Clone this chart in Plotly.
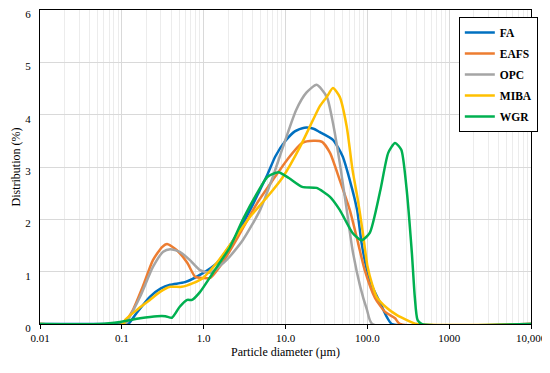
import plotly.graph_objects as go

# ---- data (particle diameter in µm, distribution in %) ----
fa_d = [0.01, 0.11, 0.12, 0.15, 0.22, 0.3, 0.39, 0.59, 0.9, 1.46, 2.3, 3.7, 4.5, 6.0, 7.5, 10, 13, 17, 22, 26, 38, 50, 61, 75, 85, 99, 115, 144, 175, 200, 10000]
fa_v = [0, 0, 0.0, 0.2, 0.52, 0.68, 0.75, 0.8, 0.94, 1.17, 1.6, 2.18, 2.45, 2.85, 3.2, 3.5, 3.68, 3.75, 3.73, 3.67, 3.52, 3.2, 2.75, 2.18, 1.55, 1.03, 0.71, 0.4, 0.12, 0, 0]

eafs_d = [0.01, 0.11, 0.116, 0.137, 0.18, 0.24, 0.31, 0.357, 0.47, 0.63, 0.79, 0.98, 1.2, 1.7, 2.8, 4.5, 7.0, 10.5, 16, 22, 28, 35, 46, 61, 77, 93, 124, 165, 218, 250, 10000]
eafs_v = [0, 0, 0.08, 0.27, 0.71, 1.22, 1.47, 1.53, 1.41, 1.17, 0.9, 0.88, 0.88, 1.17, 1.74, 2.31, 2.75, 3.14, 3.46, 3.5, 3.48, 3.27, 2.75, 2.18, 1.55, 1.03, 0.5, 0.23, 0.11, 0, 0]

opc_d = [0.01, 0.11, 0.119, 0.167, 0.24, 0.32, 0.39, 0.51, 0.68, 0.9, 1.2, 1.9, 3.0, 4.9, 7.0, 9.3, 13.5, 18, 24, 32, 38, 46, 56, 66, 82, 99, 115, 10000]
opc_v = [0, 0, 0.08, 0.52, 1.09, 1.38, 1.43, 1.38, 1.22, 1.03, 0.98, 1.22, 1.6, 2.18, 2.81, 3.38, 4.09, 4.42, 4.57, 4.34, 3.84, 3.08, 2.18, 1.41, 0.71, 0.27, 0, 0]

miba_d = [0.01, 0.105, 0.11, 0.153, 0.22, 0.29, 0.39, 0.54, 0.74, 0.98, 1.45, 2.3, 3.7, 6.0, 9.3, 15, 21.7, 26, 32, 38, 46, 56, 66, 77, 88, 100, 115, 130, 175, 230, 300, 400, 10000]
miba_v = [0, 0, 0.08, 0.27, 0.46, 0.61, 0.71, 0.71, 0.78, 0.88, 1.17, 1.6, 2.05, 2.43, 2.81, 3.38, 3.9, 4.15, 4.34, 4.51, 4.34, 3.77, 2.94, 2.35, 1.75, 1.12, 0.75, 0.52, 0.3, 0.17, 0.08, 0, 0]

wgr_d = [0.01, 0.054, 0.095, 0.167, 0.27, 0.34, 0.41, 0.51, 0.63, 0.72, 0.9, 1.3, 2.1, 3.0, 4.5, 6.0, 8.2, 11, 16, 24, 35, 46, 66, 85, 107, 144, 180, 218, 260, 300, 350, 380, 410, 460, 10000]
wgr_v = [0, 0, 0.04, 0.11, 0.15, 0.15, 0.12, 0.33, 0.46, 0.46, 0.61, 0.98, 1.47, 1.99, 2.5, 2.81, 2.9, 2.79, 2.62, 2.6, 2.43, 2.18, 1.74, 1.6, 1.74, 2.55, 3.27, 3.46, 3.33, 2.62, 1.36, 0.52, 0.08, 0, 0]

series_names = ["FA", "EAFS", "OPC", "MIBA", "WGR"]
series_colors = ["#0070C0", "#ED7D31", "#A5A5A5", "#FFC000", "#00B050"]
series_data = [(fa_d, fa_v), (eafs_d, eafs_v), (opc_d, opc_v), (miba_d, miba_v), (wgr_d, wgr_v)]

x_tickvals = [0.01, 0.1, 1, 10, 100, 1000, 10000]
x_ticktext = ["0.01", "0.1", "1.0", "10.0", "100.0", "1000", "10,000"]

FONT = "Liberation Serif"

fig = go.Figure()
for name, color, (d, v) in zip(series_names, series_colors, series_data):
    fig.add_trace(go.Scatter(
        x=d, y=v, name=name, mode="lines", legendgroup=name,
        line=dict(color=color, width=2.5, shape="spline", smoothing=0.6),
    ))

# the page body adds an 8px margin, so the figure is sized to fit the window
fig.update_layout(
    width=542, height=365,
    margin=dict(l=32, r=19, t=2, b=49, autoexpand=False),
    paper_bgcolor="white", plot_bgcolor="white",
    font=dict(family=FONT, size=11, color="black"),
    showlegend=True,
    legend=dict(
        x=0.853, y=0.978, xanchor="left", yanchor="top",
        bgcolor="white", bordercolor="black", borderwidth=1,
        font=dict(family=FONT, size=11.5, color="black", weight="bold"),
        tracegroupgap=2, itemwidth=30,
    ),
)

fig.update_xaxes(
    type="log", range=[-2, 4], automargin=False,
    tickvals=x_tickvals, ticktext=x_ticktext, ticklabeloverflow="allow",
    showgrid=True, gridcolor="#d9d9d9", gridwidth=1,
    minor=dict(dtick="D1", showgrid=True, gridcolor="#ececec", gridwidth=1, ticks=""),
    showline=True, linecolor="black", linewidth=1, mirror=True,
    ticks="outside", ticklen=4, tickcolor="black",
    zeroline=False,
    title=dict(text="Particle diameter (µm)", font=dict(family=FONT, size=12), standoff=4),
    tickfont=dict(family=FONT, size=11),
)
fig.update_yaxes(
    range=[0, 6], dtick=1, automargin=False, ticklabeloverflow="allow",
    showgrid=True, gridcolor="#d9d9d9", gridwidth=1,
    showline=True, linecolor="black", linewidth=1, mirror=True,
    ticks="", zeroline=False, ticklabelstandoff=6, ticklabelshift=4,
    title=dict(text="Distribution (%)", font=dict(family=FONT, size=12), standoff=2),
    tickfont=dict(family=FONT, size=11),
)

fig.write_html("out.html")
